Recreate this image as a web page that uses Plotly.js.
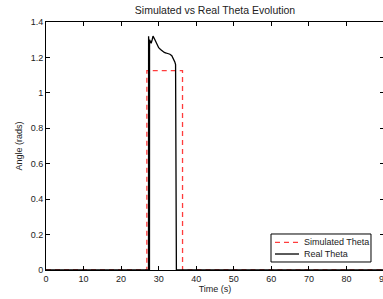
<!DOCTYPE html>
<html>
<head>
<meta charset="utf-8">
<script src="https://cdn.plot.ly/plotly-3.0.1.min.js"></script>
<style>
html,body{margin:0;padding:0;overflow:hidden;background:#fff;}
#wrap{width:383px;height:299px;overflow:hidden;position:relative;}
#chart{width:385px;height:299px;position:absolute;left:0;top:0;}
</style>
</head>
<body>
<div id="wrap"><div id="chart"></div></div>
<script>
// Simulated theta (step pulse)
const simTime  = [0, 26.85, 26.86, 36.35, 36.36, 90];
const simTheta = [0, 0, 1.125, 1.125, 0, 0];

// Real theta (measured)
const realTime  = [0, 27.3, 27.32, 27.36, 27.38, 27.55, 27.57, 27.8, 28.0, 28.27, 28.5, 29.0, 29.5, 29.9, 30.0, 30.5, 31.0, 31.5, 32.0, 32.5, 33.0, 33.5, 34.0, 34.3, 34.5, 34.52, 34.68, 34.7, 34.72, 90];
const realTheta = [0, 0, 1.32, 1.30, 0, 0, 1.30, 1.29, 1.28, 1.30, 1.32, 1.30, 1.28, 1.265, 1.255, 1.245, 1.235, 1.228, 1.225, 1.222, 1.218, 1.21, 1.19, 1.175, 1.16, 0, 0, 1.15, 0, 0];

const seriesNames = ['Simulated Theta', 'Real Theta'];
const xTicks = [0,10,20,30,40,50,60,70,80,90];
const yTicks = [0,0.2,0.4,0.6,0.8,1,1.2,1.4];
const yTickText = ['0','0.2','0.4','0.6','0.8','1','1.2','1.4'];

const font = 'Liberation Sans, Arial, Helvetica, sans-serif';
const simLine = {color: 'rgb(255,60,60)', width: 1.3, dash: '5px,4px'};
const realLine = {color: '#000', width: 1.3};

const traces = [
  {x: simTime, y: simTheta, mode: 'lines', name: seriesNames[0], line: simLine, showlegend: false},
  {x: realTime, y: realTheta, mode: 'lines', name: seriesNames[1], line: realLine, showlegend: false}
];

const axisCommon = {
  showline: true, mirror: 'ticks', linecolor: '#000', linewidth: 1,
  ticks: 'inside', ticklen: 4, tickcolor: '#000', tickwidth: 1,
  showgrid: false, zeroline: false, ticklabeloverflow: 'allow',
  tickfont: {family: font, size: 9, color: '#222'}
};

// Legend box (drawn in paper coordinates, MATLAB-style compact legend)
const lg = {x0: 0.6657, x1: 0.9615, y0: 0.0323, y1: 0.1452, sx0: 0.6775, sx1: 0.7485, tx: 0.757, ys: [0.1117, 0.0645]};
const shapes = [
  {type: 'rect', xref: 'paper', yref: 'paper', x0: lg.x0, x1: lg.x1, y0: lg.y0, y1: lg.y1,
   line: {color: '#000', width: 1}, fillcolor: '#fff', layer: 'above'},
  {type: 'line', xref: 'paper', yref: 'paper', x0: lg.sx0, x1: lg.sx1, y0: lg.ys[0], y1: lg.ys[0],
   line: simLine, layer: 'above'},
  {type: 'line', xref: 'paper', yref: 'paper', x0: lg.sx0, x1: lg.sx1, y0: lg.ys[1], y1: lg.ys[1],
   line: realLine, layer: 'above'}
];
const annotations = seriesNames.map((n, i) => ({
  text: n, xref: 'paper', yref: 'paper', x: lg.tx, y: lg.ys[i], xanchor: 'left', yanchor: 'middle',
  showarrow: false, font: {family: font, size: 9, color: '#222'}
}));

const layout = {
  width: 385, height: 299,
  margin: {l: 46, r: 1, t: 22, b: 29, pad: 0},
  paper_bgcolor: '#fff', plot_bgcolor: '#fff',
  title: {text: 'Simulated vs Real Theta Evolution', font: {family: font, size: 10.5, color: '#222'},
          x: 215 / 385, xref: 'container', xanchor: 'center',
          y: 1 - 10 / 299, yref: 'container', yanchor: 'middle'},
  xaxis: Object.assign({}, axisCommon, {
    range: [0, 90], tickvals: xTicks, ticktext: xTicks.map(String),
    title: {text: 'Time (s)', font: {family: font, size: 9, color: '#222'}, standoff: 2}
  }),
  yaxis: Object.assign({}, axisCommon, {
    range: [0, 1.4], tickvals: yTicks, ticktext: yTickText,
    title: {text: 'Angle (rads)', font: {family: font, size: 9, color: '#222'}, standoff: 6}
  }),
  showlegend: false,
  shapes: shapes,
  annotations: annotations
};

Plotly.newPlot('chart', traces, layout, {displayModeBar: false, staticPlot: true});
</script>
</body>
</html>
